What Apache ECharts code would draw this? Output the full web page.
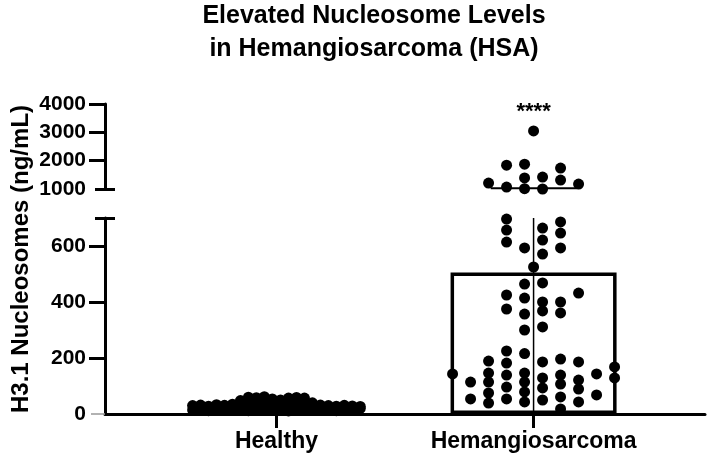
<!DOCTYPE html>
<html>
<head>
<meta charset="utf-8">
<script src="https://cdn.jsdelivr.net/npm/echarts@6/dist/echarts.min.js"></script>
<style>
html,body{margin:0;padding:0;background:#fff;}
#main{width:709px;height:459px;}
</style>
</head>
<body>
<div id="main"></div>
<script>
var categories = ['Healthy', 'Hemangiosarcoma'];
var barMeans = [30, 505];
var barSD = [13, 520];

// healthy dots: horizontal jitter (category units) and values (ng/mL)
var healthyJitter = [
  -0.326, -0.326, -0.295, -0.295, -0.264, -0.264, -0.233, -0.233, -0.202, -0.202,
  -0.171, -0.171, -0.140, -0.140, -0.140, -0.109, -0.109, -0.109, -0.109,
  -0.078, -0.078, -0.078, -0.047, -0.047, -0.047, -0.047, -0.016, -0.016, -0.016,
  0.016, 0.016, 0.016, 0.047, 0.047, 0.047, 0.047, 0.078, 0.078, 0.078,
  0.109, 0.109, 0.109, 0.109, 0.140, 0.140, 0.171, 0.171, 0.202, 0.202,
  0.233, 0.233, 0.264, 0.264, 0.295, 0.295, 0.326, 0.326
];
var healthyValues = [
  14, 30, 20, 32, 12, 28, 18, 33, 15, 31,
  22, 35, 16, 32, 48, 12, 28, 44, 60,
  19, 37, 58, 14, 31, 47, 62, 22, 40, 54,
  16, 34, 50, 11, 27, 43, 57, 20, 38, 59,
  14, 31, 47, 57, 22, 40, 15, 32, 20, 30,
  12, 28, 18, 31, 14, 29, 20, 27
];

// hemangiosarcoma dots
var hsaJitter = [
  -0.315,
  -0.245, -0.245,
  -0.175, -0.175, -0.175, -0.175, -0.175, -0.175,
  -0.105, -0.105, -0.105, -0.105, -0.105, -0.105, -0.105, -0.105, -0.105, -0.105, -0.105, -0.105,
  -0.035, -0.035, -0.035, -0.035, -0.035, -0.035, -0.035, -0.035, -0.035, -0.035, -0.035, -0.035, -0.035,
  0, 0,
  0.035, 0.035, 0.035, 0.035, 0.035, 0.035, 0.035, 0.035, 0.035, 0.035, 0.035, 0.035, 0.035,
  0.105, 0.105, 0.105, 0.105, 0.105, 0.105, 0.105, 0.105, 0.105, 0.105, 0.105, 0.105,
  0.175, 0.175, 0.175, 0.175, 0.175, 0.175,
  0.245, 0.245,
  0.315, 0.315
];
var hsaValues = [
  143,
  114, 54,
  189, 146, 114, 75, 39, 1211,
  225, 182, 139, 96, 54, 375, 425, 614, 657, 696, 1840, 1070,
  216, 146, 114, 79, 43, 300, 357, 414, 464, 593, 1877, 1390, 1010,
  525, 3050,
  186, 129, 93, 50, 311, 368, 400, 468, 571, 621, 664, 1420, 1000,
  196, 139, 107, 61, 18, 361, 400, 593, 646, 686, 1737, 1316,
  186, 121, 89, 43, 432, 1175,
  143, 68,
  168, 129
];

var lowerLabels = [0, 200, 400, 600];
var upperLabels = [1000, 2000, 3000, 4000];
var lowerRange = [0, 700];
var upperRange = [1000, 4000];
var sigText = '****';
var sigValue = 3720;

var font = "'Liberation Sans', Arial, sans-serif";
var black = '#000';

function points(jit, vals, center, lo, hi) {
  var out = [];
  for (var i = 0; i < vals.length; i++) {
    if (vals[i] >= lo && vals[i] <= hi) out.push([center + jit[i], vals[i]]);
  }
  return out;
}

function tickAxis(grid, range, values, len, inside, color, width) {
  return {
    type: 'value', gridIndex: grid, position: 'left', offset: 0,
    min: range[0], max: range[1],
    axisLine: {show: false}, splitLine: {show: false}, axisLabel: {show: false},
    axisTick: {show: true, customValues: values, length: len, inside: inside,
      lineStyle: {color: color || black, width: width || 3}}
  };
}

function errorBar(range) {
  return function (params, api) {
    var x = api.value(0), a = api.value(1), b = api.value(2);
    var ca = Math.max(range[0], Math.min(range[1], a));
    var cb = Math.max(range[0], Math.min(range[1], b));
    if (ca === cb) return null;
    var p1 = api.coord([x, ca]), p2 = api.coord([x, cb]);
    var half = api.size([0.333, 0])[0] / 2;
    var kids = [{type: 'line', shape: {x1: p1[0], y1: p1[1], x2: p2[0], y2: p2[1]},
      style: {stroke: black, lineWidth: 1.5}}];
    [a, b].forEach(function (v) {
      if (v >= range[0] && v <= range[1]) {
        var p = api.coord([x, v]);
        kids.push({type: 'line', shape: {x1: p[0] - half, y1: p[1], x2: p[0] + half, y2: p[1]},
          style: {stroke: black, lineWidth: 2}});
      }
    });
    return {type: 'group', children: kids};
  };
}

var errData = barMeans.map(function (m, i) { return [i + 1, m - barSD[i], m + barSD[i]]; });
var xMin = 1 / 3, xMax = 8 / 3;
var labelStyle = {color: black, fontFamily: font, fontWeight: 'bold'};
var dotStyle = {color: black, opacity: 1};
var plain = function (v) { return String(v); };

var myChart = echarts.init(document.getElementById('main'));
var option = {
  animation: false,
  backgroundColor: '#fff',
  title: {
    text: 'Elevated Nucleosome Levels\nin Hemangiosarcoma (HSA)',
    left: 374, top: 0, padding: 0, textAlign: 'center',
    textStyle: {color: black, fontFamily: font, fontWeight: 'bold', fontSize: 25, lineHeight: 33}
  },
  grid: [
    {left: 105, width: 600, top: 218, height: 196, containLabel: false, outerBoundsMode: 'none'},
    {left: 105, width: 600, top: 104, height: 85, containLabel: false, outerBoundsMode: 'none'},
    {left: 105, width: 600, top: 104, height: 310, containLabel: false, outerBoundsMode: 'none'}
  ],
  xAxis: [
    {type: 'value', gridIndex: 0, min: xMin, max: xMax, splitLine: {show: false},
      axisLine: {lineStyle: {color: black, width: 3}},
      axisTick: {customValues: [1, 2], length: 14, lineStyle: {color: black, width: 3}},
      axisLabel: Object.assign({customValues: [1, 2], fontSize: 23, margin: 16,
        formatter: function (v) { return categories[Math.round(v) - 1]; }}, labelStyle)},
    {type: 'value', gridIndex: 1, min: xMin, max: xMax, show: false},
    {type: 'value', gridIndex: 2, min: xMin, max: xMax, show: false}
  ],
  yAxis: [
    {type: 'value', gridIndex: 0, position: 'left', min: lowerRange[0], max: lowerRange[1],
      splitLine: {show: false},
      axisLine: {lineStyle: {color: black, width: 3}},
      axisTick: {customValues: [200, 400, 600], length: 16, lineStyle: {color: black, width: 3}},
      axisLabel: Object.assign({customValues: lowerLabels, fontSize: 21, margin: 19, formatter: plain}, labelStyle)},
    tickAxis(0, lowerRange, [700], 10, false),
    tickAxis(0, lowerRange, [700], 10, true),
    tickAxis(0, lowerRange, [0], 14, false, '#999', 1.5),
    {type: 'value', gridIndex: 1, position: 'left', min: upperRange[0], max: upperRange[1],
      splitLine: {show: false},
      axisLine: {lineStyle: {color: black, width: 3}},
      axisTick: {customValues: [2000, 3000, 4000], length: 16, lineStyle: {color: black, width: 3}},
      axisLabel: Object.assign({customValues: upperLabels, fontSize: 21, margin: 19, formatter: plain}, labelStyle)},
    tickAxis(1, upperRange, [1000], 10, false),
    tickAxis(1, upperRange, [1000], 10, true),
    {type: 'value', gridIndex: 2, position: 'left', min: 0, max: 1,
      axisLine: {show: false}, axisTick: {show: false}, axisLabel: {show: false}, splitLine: {show: false},
      name: 'H3.1 Nucleosomes (ng/mL)', nameLocation: 'middle', nameGap: 72,
      nameTextStyle: Object.assign({fontSize: 24}, labelStyle)}
  ],
  series: [
    {type: 'bar', xAxisIndex: 0, yAxisIndex: 0, z: 1, barWidth: 166,
      data: barMeans.map(function (m, i) { return [i + 1, m]; }),
      itemStyle: {color: '#fff', borderColor: black, borderWidth: 3.5}},
    {type: 'custom', xAxisIndex: 0, yAxisIndex: 0, z: 2, data: errData, renderItem: errorBar(lowerRange)},
    {type: 'custom', xAxisIndex: 1, yAxisIndex: 4, z: 2, data: errData, renderItem: errorBar(upperRange)},
    {type: 'scatter', xAxisIndex: 0, yAxisIndex: 0, z: 3, symbolSize: 11,
      itemStyle: dotStyle, data: points(healthyJitter, healthyValues, 1, lowerRange[0], lowerRange[1])},
    {type: 'scatter', xAxisIndex: 0, yAxisIndex: 0, z: 3, symbolSize: 11,
      itemStyle: dotStyle, data: points(hsaJitter, hsaValues, 2, lowerRange[0], lowerRange[1])},
    {type: 'scatter', xAxisIndex: 1, yAxisIndex: 4, z: 3, symbolSize: 11, clip: false,
      itemStyle: dotStyle, data: points(hsaJitter, hsaValues, 2, upperRange[0], upperRange[1])},
    {type: 'scatter', xAxisIndex: 1, yAxisIndex: 4, z: 3, symbolSize: 0, clip: false,
      itemStyle: dotStyle, data: [[2, sigValue]],
      label: Object.assign({show: true, position: 'inside', fontSize: 22,
        formatter: function () { return sigText; }}, labelStyle)}
  ]
};
myChart.setOption(option);
</script>
</body>
</html>
